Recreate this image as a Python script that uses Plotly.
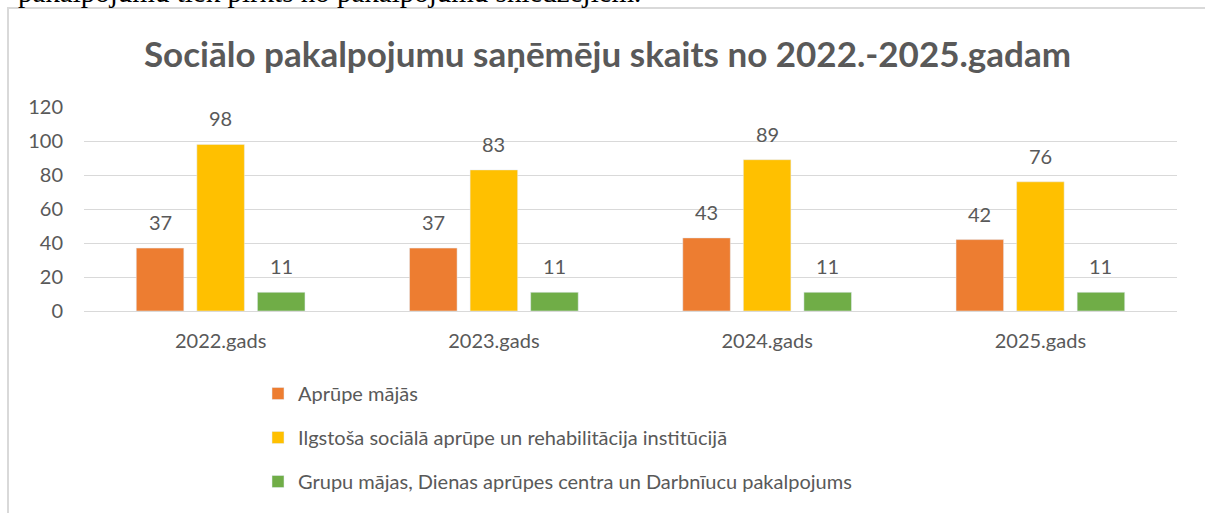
import plotly.graph_objects as go

categories = ["2022.gads", "2023.gads", "2024.gads", "2025.gads"]
series_names = [
    "Aprūpe mājās",
    "Ilgstoša sociālā aprūpe un rehabilitācija institūcijā",
    "Grupu mājas, Dienas aprūpes centra un Darbnīucu pakalpojums",
]
aprupe_majas = [37, 37, 43, 42]
ilgstosa = [98, 83, 89, 76]
grupu_majas = [11, 11, 11, 11]
y_ticks = [0, 20, 40, 60, 80, 100, 120]
title_text = "Sociālo pakalpojumu saņēmēju skaits no 2022.-2025.gadam"
doc_text = "pakalpojumu tiek pirkts no pakalpojumu sniedzējiem."

colors = ["#ED7D31", "#FFC000", "#70AD47"]
values = [aprupe_majas, ilgstosa, grupu_majas]
FONT = "Lato, Carlito, Calibri, sans-serif"
GREY = "#595959"

W, H = 1205, 513
ML, MR, MT, MB = 84, 28, 107, 202
PW = W - ML - MR
PH = H - MT - MB
BARGAP = 0.335
GROUPGAP = 0.215

fig = go.Figure()
for i, (name, vals) in enumerate(zip(series_names, values)):
    fig.add_trace(go.Bar(
        x=categories, y=vals, name=name, marker_color=colors[i],
        legendgroup=f"g{i}", hoverinfo="y+name",
    ))

# data labels above bars
slot = PW / len(categories) * (1 - BARGAP) / 3
for i, vals in enumerate(values):
    for c, v in zip(categories, vals):
        fig.add_annotation(
            x=c, y=v, text=str(v), showarrow=False, yanchor="bottom",
            yshift=12, xshift=(i - 1) * slot,
            font=dict(family=FONT, size=20, color=GREY),
        )

# cut-off document text at top
fig.add_annotation(
    xref="paper", yref="paper", x=(643 - ML) / PW, y=1 + (MT + 8) / PH,
    xanchor="right", yanchor="middle", text=doc_text, showarrow=False,
    font=dict(family="Liberation Serif, Times New Roman, serif", size=29, color="#000000"),
)

# chart area border
fig.add_shape(
    type="rect", xref="paper", yref="paper",
    x0=(8 - ML) / PW, x1=(W + 20 - ML) / PW,
    y0=-(H + 20 - MT - PH) / PH, y1=1 + (MT - 8) / PH,
    line=dict(color="#d9d9d9", width=2), fillcolor="rgba(0,0,0,0)", layer="below",
)

fig.update_layout(
    width=W, height=H,
    margin=dict(l=ML, r=MR, t=MT, b=MB, autoexpand=False),
    paper_bgcolor="white", plot_bgcolor="white",
    barmode="group", bargap=BARGAP, bargroupgap=GROUPGAP,
    title=dict(text=f"<b>{title_text}</b>", x=607.5 / W, xref="container", xanchor="center",
               y=1 - 55 / H, yanchor="middle", yref="container",
               font=dict(family=FONT, size=35, color=GREY)),
    font=dict(family=FONT, size=20, color=GREY),
    showlegend=True,
    legend=dict(
        orientation="v", x=258 / W, xref="container", xanchor="left",
        y=1 - 374 / H, yref="container", yanchor="top",
        font=dict(family=FONT, size=20, color=GREY),
        tracegroupgap=15, traceorder="grouped", itemwidth=30,
        bgcolor="rgba(0,0,0,0)",
    ),
    xaxis=dict(showline=True, linecolor="#d9d9d9", linewidth=1, ticks="",
               tickfont=dict(family=FONT, size=20, color=GREY), showgrid=False,
               ticklabelstandoff=12),
    yaxis=dict(range=[0, 120], tickvals=y_ticks, showgrid=True, gridcolor="#d9d9d9",
               gridwidth=1, zeroline=False, showline=False,
               tickfont=dict(family=FONT, size=20, color=GREY), ticklabelstandoff=20),
)

fig.write_html(
    "out.html",
    config={"displayModeBar": False},
    post_script="document.body.style.margin='0px';document.body.style.overflow='hidden';",
)
